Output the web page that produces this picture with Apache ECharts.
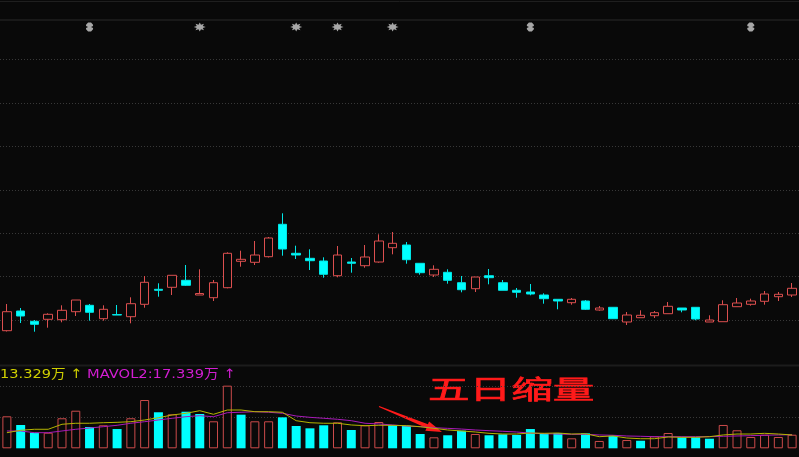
<!DOCTYPE html>
<html><head><meta charset="utf-8">
<script src="https://cdn.jsdelivr.net/npm/echarts@6/dist/echarts.min.js"></script>
<style>html,body{margin:0;padding:0;background:#090909;}#c{width:799px;height:457px;}</style>
</head><body><div id="c"></div>
<script>
// ---- data ----
const days = Array.from({length: 58}, (_, i) => 'D' + (i + 1));
const openP  = [3.27,5.24,4.21,4.41,4.37,5.17,5.81,4.47,4.88,4.67, 5.91,7.41,7.61,8.31,6.84,6.57,7.57,10.21,10.11,10.67, 13.91,11.01,10.51,10.24,8.77,10.14,9.77,10.14,11.57,11.84, 10.01,8.84,9.11,8.07,7.47,8.77,8.07,7.31,7.14,6.84, 6.41,6.07,6.24,5.34,5.61,4.14,4.57,4.77,4.97,5.54, 5.61,4.14,4.17,5.67,5.91,6.21,6.67,6.84];
const closeP = [5.17,4.74,3.91,4.91,5.31,6.34,5.11,5.41,4.84,5.97, 8.11,7.31,8.81,7.81,6.99,8.07,11.01,10.41,10.84,12.54, 11.44,10.84,10.27,8.91,10.84,10.01,10.64,12.24,12.01,10.37, 9.07,9.41,8.31,7.37,8.64,8.57,7.31,7.11,6.94,6.47, 6.24,6.41,5.41,5.54,4.47,4.84,4.81,5.07,5.71,5.34, 4.44,4.34,5.87,6.04,6.24,6.94,6.91,7.51];
const lowP   = [3.19,4.04,3.17,3.57,4.11,4.74,4.27,4.27,4.84,4.01, 5.57,6.67,6.84,7.74,6.84,6.24,7.51,9.67,9.84,10.59, 10.77,10.44,9.34,8.57,8.61,9.07,9.57,10.07,10.91,9.97, 8.87,8.64,7.97,7.11,7.14,7.91,7.31,6.57,6.81,5.97, 5.41,5.87,5.34,5.27,4.44,3.84,4.57,4.54,4.97,5.11, 4.31,4.14,4.17,5.67,5.77,5.87,6.24,6.64];
const highP  = [5.94,5.54,4.34,5.01,5.81,6.34,5.94,5.81,5.84,6.61, 8.74,8.01,8.81,9.84,9.41,8.34,11.11,11.27,12.24,12.64, 15.01,11.77,11.41,10.61,11.74,10.54,11.84,12.91,13.14,12.14, 10.01,9.81,9.41,8.74,8.64,9.44,8.34,7.54,7.94,7.01, 6.41,6.54,6.34,5.74,5.64,5.14,5.31,5.24,6.14,5.54, 5.61,4.81,6.31,6.54,6.47,7.24,7.14,8.04];
const volume = [41.0,29.9,20.0,20.0,38.5,48.2,27.3,29.5,24.7,38.5, 61.9,46.2,43.6,46.9,44.0,34.6,80.3,43.1,34.6,34.6, 39.7,28.6,25.6,29.5,33.3,23.5,29.5,33.7,29.9,29.0, 18.3,14.1,16.7,22.6,18.3,16.7,17.9,17.1,24.7,18.7, 19.6,12.8,19.2,9.4,16.2,10.6,9.7,15.4,19.6,14.1, 14.1,12.3,29.9,23.1,14.5,17.4,14.5,17.4];
const volUp  = [1,0,0,1,1,1,0,1,0,1, 1,0,1,0,0,1,1,0,1,1, 0,0,0,0,1,0,1,1,0,0, 0,1,0,0,1,0,0,0,0,0, 0,1,0,1,0,1,0,1,1,0, 0,0,1,1,1,1,1,1];
const mavol1 = [20.0,23.1,24.4,24.4,30.8,32.1,32.1,32.8,33.3,34.1, 36.3,39.2,42.7,44.9,48.2,43.6,49.1,49.1,46.9,46.9, 46.2,35.4,32.8,32.1,32.1,29.9,29.0,29.5,29.5,29.0, 27.7,25.6,23.5,22.2,20.9,19.2,18.3,18.3,19.6,19.2, 19.6,18.3,18.7,14.9,15.8,13.2,12.3,12.3,14.5,14.1, 14.1,14.9,17.1,18.3,18.3,19.2,18.3,17.1];
const mavol2 = [22.2,22.2,20.0,20.0,22.2,24.4,26.0,27.7,29.5,32.1, 34.1,36.3,38.5,40.5,41.8,40.5,45.6,46.2,46.9,46.2, 44.9,41.4,39.7,38.5,37.2,35.4,32.1,31.2,29.9,28.6, 27.7,26.4,25.6,24.7,23.5,22.6,21.8,20.9,19.4,18.7, 18.3,17.9,17.9,17.1,16.7,15.8,15.4,14.9,14.9,14.9, 14.9,14.9,15.4,15.8,16.2,16.7,17.1,17.4];
const signalIdx  = [6,14,21,24,28,38,54];
const signalType = ['d','s','s','s','s','d','d'];
const signalPrice = 33.64;
const label1 = '13.329万 ↑';
const label2 = 'MAVOL2:17.339万 ↑';
const note = '五日缩量';

// ---- chart ----
const BG = '#090909';
const RED = '#dc4f4f', CYAN = '#00ffff';
const STAR = 'path://M10 0 L5 2.07 L7.07 7.07 L2.07 5 L0 10 L-2.07 5 L-7.07 7.07 L-5 2.07 L-10 0 L-5 -2.07 L-7.07 -7.07 L-2.07 -5 L0 -10 L2.07 -5 L7.07 -7.07 L5 -2.07 Z';
const DIAM = 'path://M-3 -10 L3 -10 L7 -5 L7 -2 L3 0 L7 2 L7 5 L3 10 L-3 10 L-7 5 L-7 2 L-3 0 L-7 -2 L-7 -5 Z';

const kData = days.map((d, i) => [openP[i], closeP[i], lowP[i], highP[i]]);
const vData = volume.map((v, i) => ({
  value: v,
  itemStyle: volUp[i] ? {color: BG, borderColor: '#cc4b4b', borderWidth: 1} : {color: CYAN, borderColor: CYAN, borderWidth: 0}
}));
const sData = signalIdx.map((idx, k) => ({
  value: [days[idx], signalPrice],
  symbol: signalType[k] === 's' ? STAR : DIAM,
  symbolSize: signalType[k] === 's' ? [12, 9] : [7, 9]
}));

const split = {show: true, showMinLine: false, showMaxLine: false, lineStyle: {color: '#383838', type: [1, 2], width: 1}};
const hidden = {axisLine: {show: false}, axisTick: {show: false}, axisLabel: {show: false}};

const chart = echarts.init(document.getElementById('c'), null, {renderer: 'canvas'});
chart.setOption({
  backgroundColor: BG,
  animation: false,
  grid: [
    {left: 0, top: 16.2, width: 802, height: 347.2},
    {left: 0, top: 354.7, width: 802, height: 93.6}
  ],
  xAxis: [
    Object.assign({type: 'category', data: days, gridIndex: 0, boundaryGap: true, splitLine: {show: false}}, hidden),
    Object.assign({type: 'category', data: days, gridIndex: 1, boundaryGap: true, splitLine: {show: false}}, hidden)
  ],
  yAxis: [
    Object.assign({type: 'value', gridIndex: 0, min: 0, max: 34.72, interval: 4.34, splitLine: split}, hidden),
    Object.assign({type: 'value', gridIndex: 1, min: 0, max: 120, interval: 40, splitLine: split}, hidden)
  ],
  graphic: [
    {type: 'line', shape: {x1: 0, y1: 1.5, x2: 799, y2: 1.5}, style: {stroke: '#1f1f1f', lineWidth: 1}},
    {type: 'line', shape: {x1: 0, y1: 20, x2: 799, y2: 20}, style: {stroke: '#1f1f1f', lineWidth: 1.5}},
    {type: 'line', shape: {x1: 0, y1: 365.5, x2: 799, y2: 365.5}, style: {stroke: '#1c1c1c', lineWidth: 2}},
    {type: 'text', x: 0, y: 374.5, scaleX: 1.12, style: {text: label1, fill: '#cfcf00', font: '13px "DejaVu Sans", "Noto Sans CJK SC"', verticalAlign: 'middle'}},
    {type: 'text', x: 87, y: 374.5, scaleX: 1.13, style: {text: label2, fill: '#d21ed2', font: '13px "DejaVu Sans", "Noto Sans CJK SC"', verticalAlign: 'middle'}},
    {type: 'text', x: 428, y: 389, scaleX: 1.6, style: {text: note, fill: '#ff1a1a', stroke: '#ff1a1a', lineWidth: 0.7, font: '26px "Noto Sans CJK SC"', verticalAlign: 'middle'}},
    {type: 'polygon', shape: {points: [[379.19,406.04],[427.94,424.19],[429.06,421.41],[442,432],[425.34,430.69],[426.46,427.91],[378.81,406.96]]}, style: {fill: '#ff1a1a'}}
  ],
  series: [
    {
      type: 'candlestick', xAxisIndex: 0, yAxisIndex: 0, data: kData, barWidth: 9,
      itemStyle: {color: BG, color0: CYAN, borderColor: RED, borderColor0: '#00e6e6', borderWidth: 1}
    },
    {
      type: 'scatter', xAxisIndex: 0, yAxisIndex: 0, data: sData, clip: false,
      itemStyle: {color: '#cfcfcf'}, z: 5
    },
    {type: 'bar', xAxisIndex: 1, yAxisIndex: 1, data: vData, barWidth: 9},
    {type: 'line', xAxisIndex: 1, yAxisIndex: 1, data: mavol2, showSymbol: false, lineStyle: {color: '#a81ab8', width: 1}, z: 3},
    {type: 'line', xAxisIndex: 1, yAxisIndex: 1, data: mavol1, showSymbol: false, lineStyle: {color: '#b4b400', width: 1}, z: 4}
  ]
});
</script>
</body></html>
